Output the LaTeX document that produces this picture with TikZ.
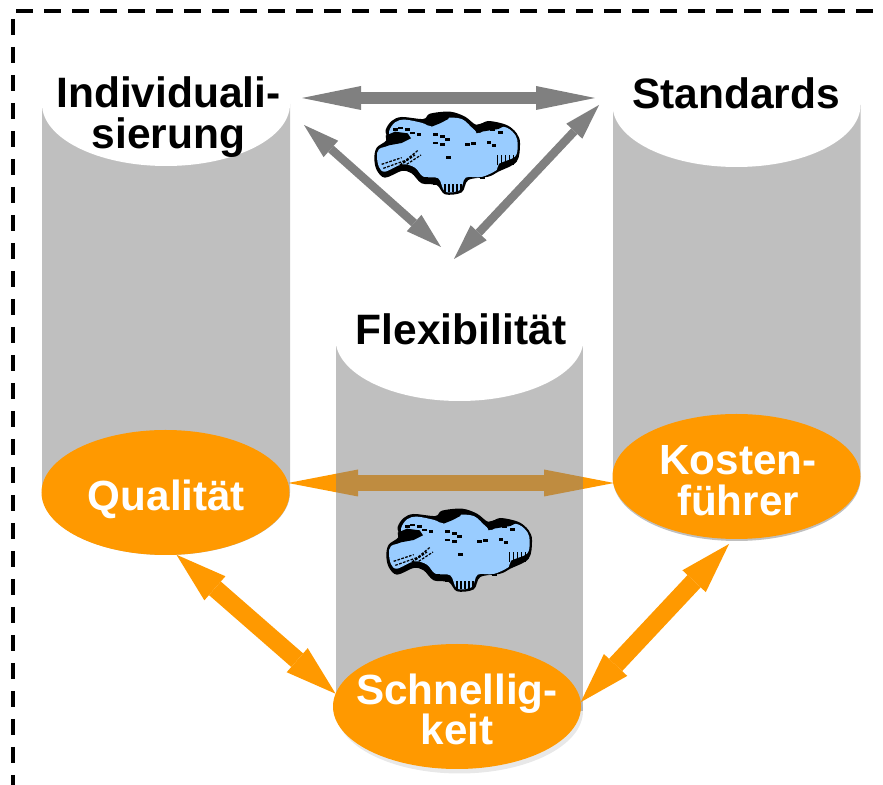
\documentclass[tikz,border=0pt]{standalone}
\usepackage{fontspec}
\setmainfont{Liberation Sans}
\usetikzlibrary{arrows.meta,shapes.geometric}
\definecolor{orangefill}{HTML}{FF9900}
\definecolor{cloudblue}{HTML}{99CCFF}
\tikzset{
  title/.style={font=\bfseries\fontsize{24.2}{23}\selectfont,align=center,inner sep=0pt},
  goaltext/.style={text=white,font=\bfseries\fontsize{24}{23}\selectfont,align=center,inner sep=0pt},
  topdisc/.style={ellipse,fill=white,minimum width=4.96cm,minimum height=2.48cm,inner sep=0pt,outer sep=0pt},
  goal/.style={ellipse,fill=orangefill,minimum width=4.96cm,minimum height=2.5cm,inner sep=0pt,outer sep=0pt},
  cylbody/.style={fill=gray,fill opacity=0.5,draw=none},
  grayhoriz/.style={draw=gray,line width=0.24cm,{Triangle[length=1.18cm,width=0.48cm,line width=0pt]}-{Triangle[length=1.18cm,width=0.48cm,line width=0pt]}},
  graydiag/.style={draw=gray,line width=0.17cm,{Triangle[length=0.72cm,width=0.44cm,line width=0pt]}-{Triangle[length=0.72cm,width=0.44cm,line width=0pt]}},
  orangehoriz/.style={draw=orangefill,line width=0.32cm,{Triangle[length=1.4cm,width=0.54cm,line width=0pt]}-{Triangle[length=1.4cm,width=0.54cm,line width=0pt]}},
  orangediag/.style={draw=orangefill,line width=0.36cm,{Triangle[length=1.02cm,width=0.64cm,line width=0pt]}-{Triangle[length=1.02cm,width=0.64cm,line width=0pt]}},
  dashline/.style={line width=0.08cm,dash pattern=on 0.33cm off 0.23cm},
  cloud/.pic={
    \begin{scope}[x=0.00667cm,y=-0.00667cm]
    \fill[black] plot[smooth cycle,tension=0.55] coordinates {(28,160) (35,128) (65,105) (62,75) (80,48) (110,36) (175,42) (195,26)
      (255,20) (300,35) (335,60) (370,48) (425,60) (455,85) (465,115) (455,170)
      (400,200) (370,215) (310,225) (290,262) (240,268) (215,240) (170,235)
      (140,205) (110,198) (60,218) (35,195)};
    \fill[cloudblue] plot[smooth cycle,tension=0.55] coordinates {(36,155) (42,132) (75,118) (72,80) (90,52) (120,44) (172,54) (200,64)
      (240,40) (290,42) (325,72) (345,84) (375,62) (425,68) (452,92) (458,120)
      (450,155) (402,176) (395,195) (350,216) (302,218) (285,255) (240,260)
      (220,220) (175,215) (150,188) (112,178) (60,200) (42,186)};
    \fill[black] (185,50) -- (200,30) -- (255,25) -- (250,42) -- (225,55) -- (200,65) -- cycle;
    \fill[black] (62,92) -- (90,80) -- (128,85) -- (138,100) -- (110,114) -- (66,122) -- cycle;
    \fill[black] (325,62) -- (370,50) -- (420,62) -- (400,72) -- (350,80) -- (335,85) -- cycle;
    \draw[black,line width=0.7pt,dash pattern=on 1.5pt off 0.8pt] (50,178) -- (110,158) (55,190) -- (125,165) (85,195) -- (150,150)
      (105,180) -- (160,135) (125,178) -- (168,150);
    \foreach \X in {398,410,422,434,446}
      \draw[black,line width=0.8pt] (\X,180) -- (\X,150);
    \foreach \X in {240,252,264,276,288}
      \draw[black,line width=0.8pt] (\X,262) -- (\X,238);
    \foreach \X/\Y in {85/70,100/65,120/70,135/80,155/85,205/85,225/90,240/100,205/110,225/115,300/115,318/112,
      365/108,380/118,243/153,175/215,205/232,345/215,375/70,400/78}
      \fill[black] (\X,\Y) rectangle ++(14,8);
    \end{scope}
  }
}
\begin{document}
\begin{tikzpicture}
  \useasboundingbox (0,0) rectangle (17.66,15.7);
  % dashed frame
  \draw[dashline] (0.25,15.32) -- (0.25,0);
  \draw[dashline] (0.32,15.48) -- (17.66,15.48);
  % the goals first, the gray bodies lie over the arrow
  \coordinate (qualiE) at (5.76,6.04);
  \coordinate (kostenW) at (12.28,6.04);
  \draw[orangehoriz] (qualiE) -- (kostenW);
  \node[ellipse,fill=black!9,minimum width=4.94cm,minimum height=2.5cm,inner sep=0pt] (schnellshadow) at (9.19,1.48) {};
  \fill[cylbody] (0.84,13.62) -- (0.84,5.85) arc (180:360:2.48 and 1.25) -- (5.8,13.62) -- cycle;
  \fill[cylbody] (12.26,13.6) -- (12.26,6.13) arc (180:360:2.475 and 1.25) -- (17.21,13.6) -- cycle;
  \fill[cylbody] (6.72,8.92) rectangle (11.66,1.48);
  \node[topdisc] (indivdisc) at (3.32,13.62) {};
  \node[topdisc] (standdisc) at (14.73,13.6) {};
  \node[topdisc] (flexdisc) at (9.19,8.92) {};
  \node[title] (indiv) at (3.37,13.36) {Individuali-\\sierung};
  \node[title] (stand) at (14.72,13.84) {Standards};
  \node[title] (flex) at (9.22,9.12) {Flexibilität};
  \node[goal] (quali) at (3.31,5.85) {};
  \node[goal] (kosten) at (14.73,6.17) {};
  \node[goal] (schnell) at (9.14,1.57) {};
  \node[goaltext] (qualitext) at (3.33,5.71) {Qualität};
  \node[goaltext] (kostentext) at (14.76,6.09) {Kosten-\\führer};
  \node[goaltext] (schnelltext) at (9.14,1.51) {Schnellig-\\keit};
  % arrows
  \coordinate (indivE) at (6.04,13.74);
  \coordinate (standW) at (11.9,13.74);
  \coordinate (indivS) at (6.08,13.2);
  \coordinate (flexW) at (8.82,10.76);
  \coordinate (standS) at (11.98,13.6);
  \coordinate (flexN) at (9.08,10.52);
  \coordinate (kostenS) at (14.58,4.82);
  \draw[grayhoriz] (indivE) -- (standW);
  \draw[graydiag] (indivS) -- (flexW);
  \draw[graydiag] (standS) -- (flexN);
  \draw[orangediag] (quali.-80) -- (schnell.174);
  \draw[orangediag] (kostenS) -- (schnell.2);
  % clouds
  \pic at (7.3,13.6) {cloud};
  \pic at (7.54,5.66) {cloud};
\end{tikzpicture}
\end{document}
